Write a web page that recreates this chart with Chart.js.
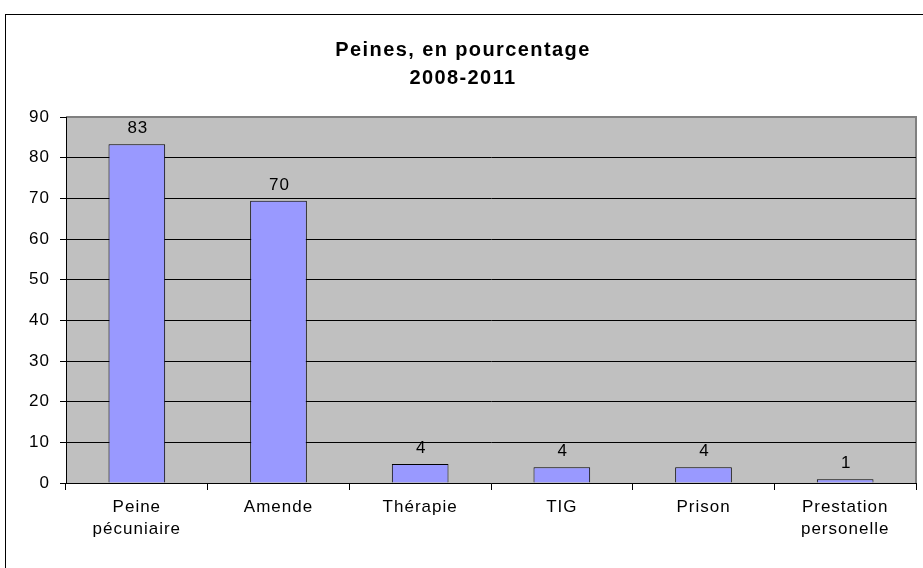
<!DOCTYPE html>
<html lang="fr">
<head>
<meta charset="utf-8">
<title>Peines, en pourcentage 2008-2011</title>
<script src="https://cdn.jsdelivr.net/npm/chart.js@4/dist/chart.umd.min.js"></script>
<style>
    html, body { margin: 0; padding: 0; background: #fff; overflow: hidden; }
    #cadre { position: absolute; left: 0; top: 0; width: 923px; height: 568px; }
</style>
</head>
<body>
<div id="cadre"><canvas id="graphePeines" width="923" height="568"></canvas></div>
<script>
// Données du graphique
const categories = [['Peine', 'pécuniaire'], 'Amende', 'Thérapie', 'TIG', 'Prison', ['Prestation', 'personelle']];
const pourcentages = [83.3, 69.4, 4.7, 3.9, 3.9, 0.9];
const etiquettesValeurs = ['83', '70', '4', '4', '4', '1'];
const titre = ['Peines, en pourcentage', '2008-2011'];

const police = "'Liberation Sans', Arial, sans-serif";

// Plugin : espacement des lettres (rendu type Excel), cadre et fond gris
const pluginFond = {
    id: 'fond',
    beforeUpdate(chart) {
        chart.ctx.letterSpacing = '1px';
    },
    beforeDraw(chart) {
        const ctx = chart.ctx;
        const a = chart.chartArea;
        ctx.letterSpacing = '1px';
        ctx.save();
        ctx.strokeStyle = '#000';
        ctx.lineWidth = 1;
        ctx.strokeRect(5.5, 14.5, 1200, 1200);
        ctx.fillStyle = '#C0C0C0';
        ctx.fillRect(a.left, a.top, a.right - a.left, a.bottom - a.top);
        ctx.strokeStyle = '#808080';
        ctx.lineWidth = 2;
        ctx.beginPath();
        ctx.moveTo(a.left, a.top);
        ctx.lineTo(a.right, a.top);
        ctx.lineTo(a.right, a.bottom);
        ctx.stroke();
        ctx.restore();
    }
};

// Plugin : titre et valeurs au-dessus des barres
const pluginTextes = {
    id: 'textes',
    afterDatasetsDraw(chart) {
        const ctx = chart.ctx;
        const meta = chart.getDatasetMeta(0);
        ctx.save();
        ctx.font = '17px ' + police;
        ctx.letterSpacing = '1px';
        ctx.fillStyle = '#000';
        ctx.textAlign = 'center';
        ctx.textBaseline = 'alphabetic';
        meta.data.forEach((barre, i) => {
            ctx.fillText(etiquettesValeurs[i], barre.x + 1, barre.y - 11);
        });

        ctx.font = 'bold 20px ' + police;
        ctx.letterSpacing = '1.4px';
        ctx.fillText(titre[0], 463, 56);
        ctx.fillText(titre[1], 463, 84);
        ctx.restore();
    }
};

const ctx = document.getElementById('graphePeines').getContext('2d');
new Chart(ctx, {
    type: 'bar',
    data: {
        labels: categories,
        datasets: [{
            label: 'Peines',
            data: pourcentages,
            backgroundColor: '#9999FF',
            borderColor: '#000',
            borderWidth: 1,
            borderSkipped: 'start',
            barPercentage: 0.4,
            categoryPercentage: 1
        }]
    },
    options: {
        responsive: false,
        animation: false,
        layout: { padding: { left: 0, right: 7, top: 117, bottom: 0 } },
        scales: {
            x: {
                offset: true,
                grid: {
                    offset: true,
                    drawOnChartArea: false,
                    tickLength: 7,
                    tickColor: '#000'
                },
                border: { color: '#000', width: 1 },
                ticks: {
                    color: '#000',
                    font: { family: police, size: 17, lineHeight: 1.25 },
                    padding: 7,
                    maxRotation: 0,
                    autoSkip: false
                },
                afterFit(scale) { scale.height = 85; }
            },
            y: {
                min: 0,
                max: 90,
                ticks: {
                    stepSize: 10,
                    color: '#000',
                    font: { family: police, size: 17 },
                    padding: 10
                },
                grid: {
                    color: c => (c.tick && c.tick.value === 90) ? 'rgba(0,0,0,0)' : '#000',
                    lineWidth: 1,
                    tickLength: 6,
                    tickColor: '#000'
                },
                border: { color: '#000', width: 1 },
                afterFit(scale) { scale.width = 66; }
            }
        },
        plugins: {
            legend: { display: false },
            tooltip: { enabled: false },
            title: { display: false }
        }
    },
    plugins: [pluginFond, pluginTextes]
});
</script>
</body>
</html>
